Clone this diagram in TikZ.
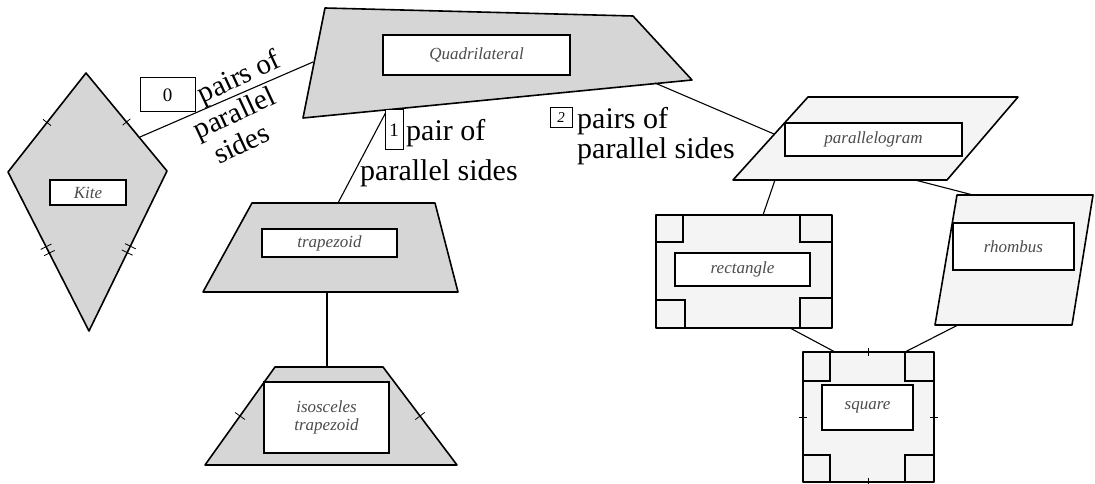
\documentclass[tikz,border=0pt]{standalone}
\usepackage{fontspec}
\setmainfont{Liberation Serif}
\usetikzlibrary{calc}
\begin{document}
\begin{tikzpicture}[x=1pt,y=-1pt,
  shapeA/.style={draw=black, line width=1.6pt, fill=gray!32, line join=round},
  shapeB/.style={draw=black, line width=1.6pt, fill=gray!9, line join=round},
  lbl/.style={draw=black, line width=1.2pt, fill=white, inner sep=0pt, font=\itshape\fontsize{17}{18}\selectfont, text=black!70},
  ans/.style={draw=black, line width=1pt, fill=white, inner sep=0pt, font=\fontsize{19}{19}\selectfont},
  conn/.style={draw=black, line width=1.1pt},
  txt/.style={font=\fontsize{30}{30}\selectfont, inner sep=0pt, anchor=base west},
  tickmark/.style={draw=black, line width=0.8pt},
  rmark/.style={draw=black, line width=1.3pt}
]
\useasboundingbox (0,0) rectangle (1095,484);

% ---------- shapes ----------
% quadrilateral
\coordinate (Q1) at (325,8); \coordinate (Q2) at (633,16);
\coordinate (Q3) at (692,80); \coordinate (Q4) at (303,118);
\path[shapeA] (Q1) -- (Q2) -- (Q3) -- (Q4) -- cycle;
% kite
\coordinate (K1) at (86,73); \coordinate (K2) at (167,171);
\coordinate (K3) at (89,331); \coordinate (K4) at (8,172);
\path[shapeA] (K1) -- (K2) -- (K3) -- (K4) -- cycle;
% trapezoid
\coordinate (T1) at (252,203); \coordinate (T2) at (435,203);
\coordinate (T3) at (458,292); \coordinate (T4) at (203,292);
\path[shapeA] (T1) -- (T2) -- (T3) -- (T4) -- cycle;
% isosceles trapezoid
\coordinate (I1) at (275,367); \coordinate (I2) at (383,367);
\coordinate (I3) at (457,465); \coordinate (I4) at (205,465);
\path[shapeA] (I1) -- (I2) -- (I3) -- (I4) -- cycle;
% parallelogram
\coordinate (P1) at (808,97); \coordinate (P2) at (1018,97);
\coordinate (P3) at (947,180); \coordinate (P4) at (733,180);
\path[shapeB] (P1) -- (P2) -- (P3) -- (P4) -- cycle;
% rectangle
\coordinate (R1) at (656,215); \coordinate (R3) at (832,328);
\path[shapeB] (R1) rectangle (R3);
% rhombus
\coordinate (H1) at (957,195); \coordinate (H2) at (1093,195);
\coordinate (H3) at (1072,325); \coordinate (H4) at (935,325);
\path[shapeB] (H1) -- (H2) -- (H3) -- (H4) -- cycle;
% square
\coordinate (S1) at (803,352); \coordinate (S3) at (934,482);
\path[shapeB] (S1) rectangle (S3);

% ---------- tick marks ----------
\draw[tickmark] ($(K4)!0.5!(K1)!5pt!90:(K1)$) -- ($(K4)!0.5!(K1)!5pt!-90:(K1)$);
\draw[tickmark] ($(K1)!0.5!(K2)!5pt!90:(K2)$) -- ($(K1)!0.5!(K2)!5pt!-90:(K2)$);
\draw[tickmark] ($(K4)!0.47!(K3)!6pt!90:(K3)$) -- ($(K4)!0.47!(K3)!6pt!-90:(K3)$);
\draw[tickmark] ($(K4)!0.51!(K3)!6pt!90:(K3)$) -- ($(K4)!0.51!(K3)!6pt!-90:(K3)$);
\draw[tickmark] ($(K2)!0.47!(K3)!6pt!90:(K3)$) -- ($(K2)!0.47!(K3)!6pt!-90:(K3)$);
\draw[tickmark] ($(K2)!0.51!(K3)!6pt!90:(K3)$) -- ($(K2)!0.51!(K3)!6pt!-90:(K3)$);
\draw[tickmark] ($(I4)!0.5!(I1)!6pt!90:(I1)$) -- ($(I4)!0.5!(I1)!6pt!-90:(I1)$);
\draw[tickmark] ($(I2)!0.5!(I3)!6pt!90:(I3)$) -- ($(I2)!0.5!(I3)!6pt!-90:(I3)$);
\draw[tickmark] (868,348) -- (868,356);
\draw[tickmark] (868,478) -- (868,486);
\draw[tickmark] (799,417) -- (807,417);
\draw[tickmark] (930,417) -- (938,417);

% ---------- right-angle marks ----------
\draw[rmark] (683,215) -- (683,242) -- (656,242);
\draw[rmark] (800,215) -- (800,242) -- (832,242);
\draw[rmark] (656,300) -- (685,300) -- (685,328);
\draw[rmark] (832,298) -- (800,298) -- (800,328);
\draw[rmark] (830,352) -- (830,381) -- (803,381);
\draw[rmark] (905,352) -- (905,381) -- (934,381);
\draw[rmark] (803,455) -- (830,455) -- (830,482);
\draw[rmark] (934,455) -- (905,455) -- (905,482);

% ---------- connectors ----------
\coordinate (ckA) at (140,137); \coordinate (cqA) at (313,62);
\coordinate (cqB) at (386,112); \coordinate (ctB) at (338,203);
\coordinate (cqC) at (655,83);  \coordinate (cpC) at (774,134);
\coordinate (ctD) at (327,292); \coordinate (ciD) at (327,367);
\coordinate (cpE) at (775,180); \coordinate (crE) at (763,215);
\coordinate (cpF) at (915,180); \coordinate (chF) at (973,195);
\coordinate (crG) at (790,328); \coordinate (csG) at (835,352);
\coordinate (chH) at (958,325); \coordinate (csH) at (905,352);
\draw[conn] (ckA) -- (cqA);
\draw[conn] (cqB) -- (ctB);
\draw[conn] (cqC) -- (cpC);
\draw[conn] (ctD) -- (ciD);
\draw[conn] (cpE) -- (crE);
\draw[conn] (cpF) -- (chF);
\draw[conn] (crG) -- (csG);
\draw[conn] (chH) -- (csH);

% ---------- name boxes ----------
\node[lbl, minimum width=187pt, minimum height=40pt] (nQ) at (476.5,55) {Quadrilateral};
\node[lbl, minimum width=76pt, minimum height=25pt] (nK) at (88,192.5) {Kite};
\node[lbl, minimum width=135pt, minimum height=28pt] (nT) at (329.5,243) {trapezoid};
\node[lbl, minimum width=125pt, minimum height=71pt, align=center] (nI) at (326.5,417.5) {isosceles\\trapezoid};
\node[lbl, minimum width=177pt, minimum height=33pt] (nP) at (873.5,139.5) {parallelogram};
\node[lbl, minimum width=135pt, minimum height=33pt] (nR) at (742.5,269.5) {rectangle};
\node[lbl, minimum width=121pt, minimum height=47pt] (nH) at (1013.5,246.5) {rhombus};
\node[lbl, minimum width=91pt, minimum height=45pt] (nS) at (867.5,407.5) {square};

% ---------- answer boxes and printed text ----------
\node[ans, minimum width=55pt, minimum height=34pt] (a0) at (167.5,95) {0};
\node[ans, minimum width=18pt, minimum height=40pt] (a1) at (394,130) {1};
\node[ans, minimum width=22pt, minimum height=20pt, font=\itshape\fontsize{15}{15}\selectfont] (a2) at (561,118) {2};

\node[font=\fontsize{29}{31}\selectfont, inner sep=0pt, align=left, rotate=25, anchor=center] (t0) at (243,108)
  {\hspace*{19pt}pairs of\\parallel\\\hspace*{8pt}sides};

\node[txt] (t1a) at (406,141) {pair of};
\node[txt] (t1b) at (360,180) {parallel sides};

\node[txt] (t2a) at (577,129) {pairs of};
\node[txt] (t2b) at (577,159) {parallel sides};
\end{tikzpicture}
\end{document}
